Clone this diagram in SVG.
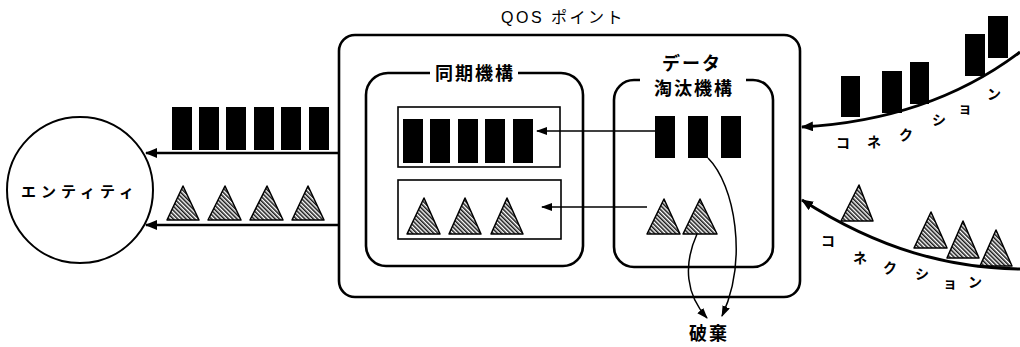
<svg xmlns="http://www.w3.org/2000/svg" width="1020" height="347" viewBox="0 0 1020 347">
<style>
.box{fill:none;stroke:#000;stroke-width:2.6}
.inner{fill:none;stroke:#000;stroke-width:1.6}
.blk{fill:#000}
.tri{fill:url(#hatch);stroke:#000;stroke-width:1.5;stroke-linejoin:round}
.t{font-family:"Liberation Sans","Noto Sans CJK JP",sans-serif;fill:#000;dominant-baseline:central;text-anchor:middle}
.k{font-family:"Noto Sans CJK JP",sans-serif;font-weight:bold;fill:#000;dominant-baseline:central;text-anchor:middle}
.lbl{font-family:"Noto Sans CJK JP",sans-serif;font-weight:bold;fill:#000;dominant-baseline:central;text-anchor:middle}
.thick{fill:none;stroke:#000;stroke-width:2.6}
.thin{fill:none;stroke:#000;stroke-width:1.5}
.conn{fill:none;stroke:#000;stroke-width:3}
</style>
<defs>
<pattern id="hatch" patternUnits="userSpaceOnUse" width="3" height="3" patternTransform="rotate(-45)">
<rect width="3" height="3" fill="#fff"/>
<line x1="0.8" y1="0" x2="0.8" y2="3" stroke="#000" stroke-width="1.4"/>
</pattern>
<marker id="ah" viewBox="0 0 12 10" refX="11" refY="5" markerWidth="12" markerHeight="10" markerUnits="userSpaceOnUse" orient="auto">
<path d="M0,0 L12,5 L0,10 z" fill="#000"/>
</marker>
<marker id="as" viewBox="0 0 11 8" refX="10" refY="4" markerWidth="11" markerHeight="8" markerUnits="userSpaceOnUse" orient="auto">
<path d="M0,0 L11,4 L0,8 z" fill="#000"/>
</marker>
</defs>

<g id="entity">
<circle cx="80" cy="190" r="73" fill="none" stroke="#000" stroke-width="2"/>
<text class="k" x="80" y="190" font-size="15" letter-spacing="5">エンティティ</text>
</g>

<g id="qos-point">
<rect class="box" x="339" y="35" width="461" height="262" rx="16"/>
<text class="t" x="563" y="17" font-size="16" letter-spacing="2.5">QOS ポイント</text>
</g>

<g id="sync-mechanism">
<path class="box" d="M430,73 L388,73 A22,22 0 0 0 366,95 L366,246 A20,20 0 0 0 386,266 L563,266 A20,20 0 0 0 583,246 L583,95 A22,22 0 0 0 561,73 L518,73"/>
<text class="lbl" x="475" y="72" font-size="18" letter-spacing="2">同期機構</text>
<rect class="inner" x="398" y="107" width="162" height="60"/>
<rect class="blk" x="403" y="119" width="20" height="44"/>
<rect class="blk" x="430" y="119" width="20" height="44"/>
<rect class="blk" x="458" y="119" width="20" height="44"/>
<rect class="blk" x="485" y="119" width="20" height="44"/>
<rect class="blk" x="513" y="119" width="20" height="44"/>
<rect class="inner" x="398" y="180" width="163" height="59"/>
<path class="tri" d="M424,198 L440,234 L407,234 z"/>
<path class="tri" d="M465,198 L481,234 L449,234 z"/>
<path class="tri" d="M507,198 L523,234 L491,234 z"/>
</g>

<g id="data-discard-mechanism">
<path class="box" d="M640,80 L634,80 A20,20 0 0 0 614,100 L614,247 A20,20 0 0 0 634,267 L753,267 A20,20 0 0 0 773,247 L773,100 A20,20 0 0 0 753,80 L746,80"/>
<text class="lbl" x="692" y="62" font-size="18" letter-spacing="2">データ</text>
<text class="lbl" x="694" y="87" font-size="18" letter-spacing="2">淘汰機構</text>
<rect class="blk" x="655" y="116" width="20" height="42"/>
<rect class="blk" x="688" y="116" width="20" height="42"/>
<rect class="blk" x="721" y="116" width="20" height="42"/>
<path class="tri" d="M664,199 L680,234 L647,234 z"/>
<path class="tri" d="M700,199 L717,234 L683,234 z"/>
</g>

<g id="discard">
<text class="lbl" x="709" y="332" font-size="18" letter-spacing="2">破棄</text>
</g>

<g id="output-queue">
<rect class="blk" x="172" y="107" width="20" height="43"/>
<rect class="blk" x="199" y="107" width="20" height="43"/>
<rect class="blk" x="226" y="107" width="20" height="43"/>
<rect class="blk" x="254" y="107" width="20" height="43"/>
<rect class="blk" x="281" y="107" width="20" height="43"/>
<rect class="blk" x="309" y="107" width="20" height="43"/>
<path class="tri" d="M183,186 L199,220 L167,220 z"/>
<path class="tri" d="M225,186 L241,220 L208,220 z"/>
<path class="tri" d="M267,186 L283,220 L250,220 z"/>
<path class="tri" d="M308,186 L324,220 L292,220 z"/>
</g>

<g id="connection-upper">
<rect class="blk" x="841" y="76" width="19" height="41"/>
<rect class="blk" x="882" y="71" width="20" height="42"/>
<rect class="blk" x="910" y="62" width="19" height="42"/>
<rect class="blk" x="965" y="34" width="20" height="42"/>
<rect class="blk" x="988" y="16" width="20" height="42"/>
<g font-size="14">
<text class="k" x="843" y="142">コ</text>
<text class="k" x="874" y="141">ネ</text>
<text class="k" x="906" y="134">ク</text>
<text class="k" x="939" y="119">シ</text>
<text class="k" x="965" y="107">ョ</text>
<text class="k" x="994" y="93">ン</text>
</g>
</g>

<g id="connection-lower">
<path class="tri" d="M859,185 L873,221 L841,221 z"/>
<path class="tri" d="M931,212 L947,248 L914,248 z"/>
<path class="tri" d="M963,221 L979,258 L947,258 z"/>
<path class="tri" d="M996,230 L1012,266 L980,266 z"/>
<g font-size="14">
<text class="k" x="828" y="240">コ</text>
<text class="k" x="860" y="257">ネ</text>
<text class="k" x="890" y="267">ク</text>
<text class="k" x="922" y="273">シ</text>
<text class="k" x="950" y="282">ョ</text>
<text class="k" x="975" y="281">ン</text>
</g>
</g>

<g id="connectors">
<line class="thick" x1="339" y1="153" x2="146" y2="153" marker-end="url(#ah)"/>
<line class="thick" x1="339" y1="225" x2="146" y2="225" marker-end="url(#ah)"/>
<line class="thin" x1="655" y1="131" x2="537" y2="131" marker-end="url(#as)"/>
<line class="thin" x1="647" y1="207" x2="542" y2="207" marker-end="url(#as)"/>
<path class="thin" d="M708,158 C735,185 748,260 722,316" marker-end="url(#as)"/>
<path class="thin" d="M697,234 C683,265 686,295 707,318" marker-end="url(#as)"/>
<path class="conn" d="M1020,52 Q930,120 802,127" marker-end="url(#ah)"/>
<path class="conn" d="M1020,269 C950,268 880,250 802,200" marker-end="url(#ah)"/>
</g>
</svg>
